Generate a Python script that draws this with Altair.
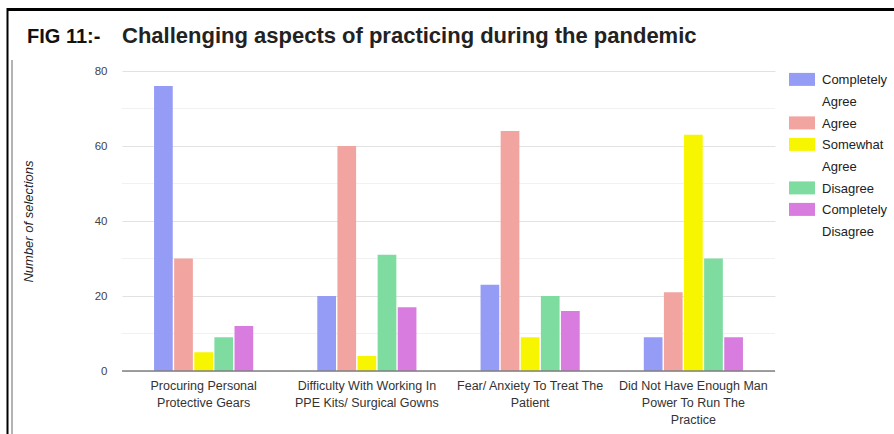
import altair as alt
import pandas as pd

# Survey question groups (x categories), one line per row of the axis label
categories = [
    "Procuring Personal\nProtective Gears",
    "Difficulty With Working In\nPPE Kits/ Surgical Gowns",
    "Fear/ Anxiety To Treat The\nPatient",
    "Did Not Have Enough Man\nPower To Run The\nPractice",
]

# Response options (series)
responses = [
    "Completely Agree",
    "Agree",
    "Somewhat Agree",
    "Disagree",
    "Completely Disagree",
]

# Number of selections per response, in category order
completely_agree = [76, 20, 23, 9]
agree = [30, 60, 64, 21]
somewhat_agree = [5, 4, 9, 63]
disagree = [9, 31, 20, 30]
completely_disagree = [12, 17, 16, 9]

series_values = [completely_agree, agree, somewhat_agree, disagree, completely_disagree]

colors = ["#959cf5", "#f2a4a0", "#f8f500", "#7edca0", "#d97cdf"]

y_ticks = [0, 20, 40, 60, 80]
minor_grid = [10, 30, 50, 70]

rows = []
for resp, vals in zip(responses, series_values):
    for cat, v in zip(categories, vals):
        rows.append({"category": cat, "response": resp, "count": v})
df = pd.DataFrame(rows)

FONT = "Liberation Sans"

y_scale = alt.Scale(domain=[0, 80], nice=False)

# Wide legend swatch, raised so it lines up with the first line of its label
SWATCH = "M-1,-0.854H1V0.146H-1Z"

bars = alt.Chart(df).mark_bar().encode(
    x=alt.X(
        "category:N",
        sort=categories,
        scale=alt.Scale(paddingInner=0.384, paddingOuter=0.192),
        axis=alt.Axis(
            title=None,
            labelAngle=0,
            labelExpr="split(datum.label, '\\n')",
            labelFont=FONT,
            labelFontSize=12.5,
            labelColor="#333333",
            labelLineHeight=17,
            labelPadding=8,
            labelBaseline="top",
            domain=False,
            ticks=False,
            labelLimit=300,
        ),
    ),
    xOffset=alt.XOffset(
        "response:N",
        sort=responses,
        scale=alt.Scale(paddingInner=0.07, paddingOuter=0.035),
    ),
    y=alt.Y(
        "count:Q",
        scale=y_scale,
        axis=alt.Axis(
            title="Number of selections",
            titleFont=FONT,
            titleFontSize=13,
            titleFontStyle="italic",
            titleFontWeight="normal",
            titleColor="#222222",
            titleAngle=270,
            titleAlign="center",
            titleBaseline="middle",
            titleX=-94,
            titleY=150,
            values=y_ticks,
            labelFont=FONT,
            labelFontSize=11.5,
            labelColor="#444444",
            labelPadding=15,
            domain=False,
            ticks=False,
            gridColor="#e2e2e2",
            gridWidth=1,
        ),
    ),
    color=alt.Color(
        "response:N",
        sort=responses,
        scale=alt.Scale(domain=responses, range=colors),
        legend=alt.Legend(
            title=None,
            orient="right",
            offset=14,
            symbolType=SWATCH,
            symbolSize=676,
            symbolStrokeWidth=0,
            labelFont=FONT,
            labelFontSize=13,
            labelColor="#222222",
            labelOffset=7,
            labelBaseline="alphabetic",
            labelExpr="split(datum.label, ' ')",
            rowPadding=5.5,
            padding=0,
        ),
    ),
)

minor = alt.Chart(pd.DataFrame({"v": minor_grid})).mark_rule(
    color="#f1f1f1", strokeWidth=1
).encode(y=alt.Y("v:Q", scale=y_scale))

baseline = alt.Chart(pd.DataFrame({"v": [0]})).mark_rule(
    color="#808080", strokeWidth=1.6
).encode(y=alt.Y("v:Q", scale=y_scale))

fig_label = alt.Chart(pd.DataFrame({"t": ["FIG 11:-"]})).mark_text(
    align="left", baseline="alphabetic", font=FONT, fontSize=20,
    fontWeight="bold", color="#111111"
).encode(x=alt.value(-95), y=alt.value(-28), text="t:N")

title_text = alt.Chart(
    pd.DataFrame({"t": ["Challenging aspects of practicing during the pandemic"]})
).mark_text(
    align="left", baseline="alphabetic", font=FONT, fontSize=22,
    fontWeight="bold", color="#222222"
).encode(x=alt.value(0), y=alt.value(-28), text="t:N")

# Frame lines around the figure panel
frame_top = alt.Chart(pd.DataFrame({"a": [0]})).mark_rule(
    color="#000000", strokeWidth=3
).encode(x=alt.value(-115), x2=alt.value(780), y=alt.value(-61.5))
frame_left = alt.Chart(pd.DataFrame({"a": [0]})).mark_rule(
    color="#000000", strokeWidth=2
).encode(x=alt.value(-114.5), y=alt.value(-63), y2=alt.value(370))
frame_inner = alt.Chart(pd.DataFrame({"a": [0]})).mark_rule(
    color="#9a9a9a", strokeWidth=1.5
).encode(x=alt.value(-110), y=alt.value(-11), y2=alt.value(370))

chart = alt.layer(
    minor, bars, baseline, fig_label, title_text, frame_top, frame_left, frame_inner
).properties(
    width=653,
    height=300,
    background="#ffffff",
    autosize=alt.AutoSizeParams(type="none"),
    padding={"left": 122, "top": 71, "right": 119, "bottom": 63},
).configure(
    view=alt.ViewConfig(stroke="transparent"),
    style={"guide-label": {"lineHeight": 21.6}},
)

chart.save("out.html", embed_options={"renderer": "svg", "actions": False})
